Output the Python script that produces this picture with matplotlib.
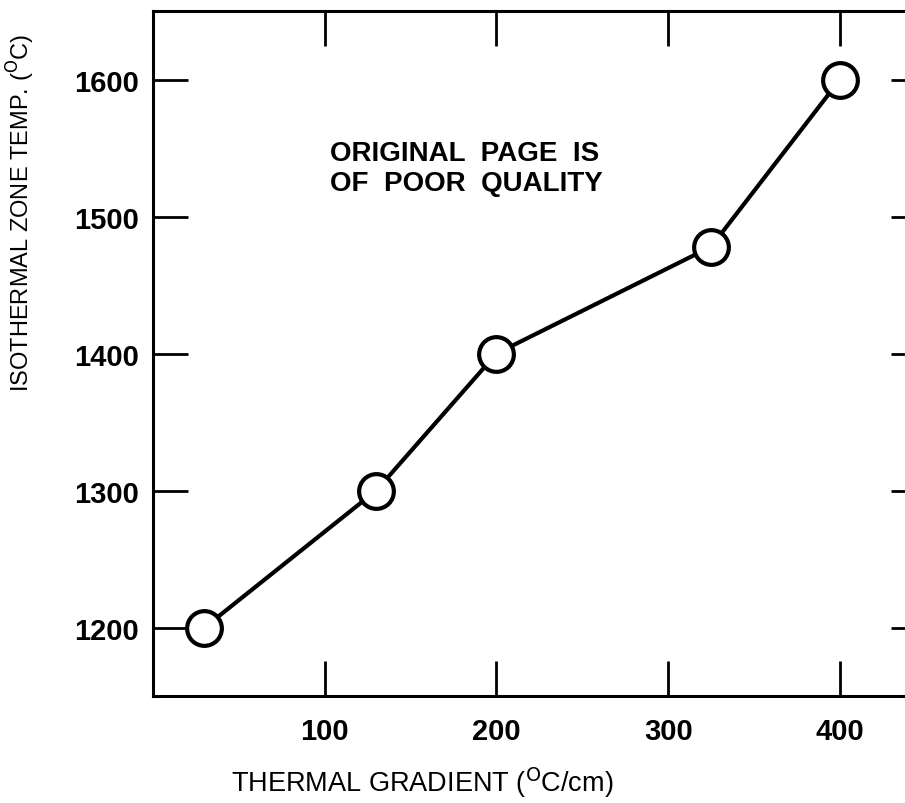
import matplotlib
matplotlib.use("Agg")
import matplotlib.pyplot as plt

# thermal gradient (C/cm) vs isothermal zone temperature (C)
gradient = [30, 130, 200, 325, 400]
zone_temp = [1200, 1300, 1400, 1478, 1600]

x_ticks = [100, 200, 300, 400]
y_ticks = [1200, 1300, 1400, 1500, 1600]

plt.rcParams['font.family'] = ['Liberation Sans', 'DejaVu Sans']

fig = plt.figure(figsize=(9.05, 8.04), dpi=100)
ax = fig.add_axes([0.169, 0.133, 0.854, 0.852])

ax.plot(gradient, zone_temp, color='black', lw=3, marker='o', ms=25,
        mfc='white', mec='black', mew=3, zorder=3, clip_on=False)

ax.set_xlim(0, 450)
ax.set_ylim(1150, 1650)
ax.set_xticks(x_ticks)
ax.set_yticks(y_ticks)
ax.tick_params(direction='in', length=25, width=2, top=True, right=True,
               labelsize=21, pad=15)
ax.tick_params(axis='y', pad=10)
for lab in ax.get_xticklabels() + ax.get_yticklabels():
    lab.set_fontweight('bold')
for s in ax.spines.values():
    s.set_linewidth(2.2)

ax.set_xlabel("THERMAL GRADIENT ($^{\\rm O}$C/cm)", fontsize=19.5)
ax.xaxis.set_label_coords(0.349, -0.1)
ax.set_ylabel("ISOTHERMAL ZONE TEMP. ($^{\\rm O}$C)", fontsize=17)
ax.yaxis.set_label_coords(-0.15, 0.707)

ax.text(0.229, 0.812, "ORIGINAL  PAGE  IS\nOF  POOR  QUALITY",
        transform=ax.transAxes, fontsize=20, fontweight='bold',
        va='top', ha='left', linespacing=1.2)

fig.savefig("out.png", dpi=100)
